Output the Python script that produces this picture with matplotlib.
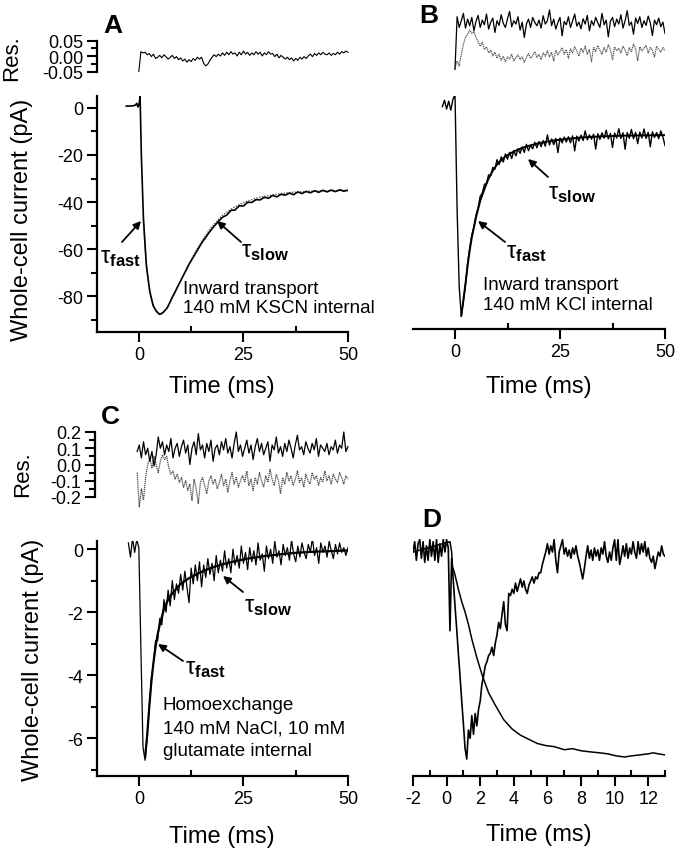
import numpy as np
import matplotlib
matplotlib.use('Agg')
import matplotlib.pyplot as plt
from matplotlib.ticker import MultipleLocator, FormatStrFormatter

plt.rcParams['font.family'] = ['Liberation Sans', 'DejaVu Sans']
plt.rcParams['mathtext.fontset'] = 'custom'
plt.rcParams['mathtext.rm'] = 'Liberation Sans'
plt.rcParams['mathtext.it'] = 'Liberation Sans:italic'
plt.rcParams['mathtext.bf'] = 'Liberation Sans:bold'
plt.rcParams['axes.unicode_minus'] = False

# ---- data ----
res_dt = 0.5  # residual sampling, ms, starting at t = 0

a_res = [-0.05, 0.014, 0.01, 0.012, 0.004, 0.008, -0.002, 0.006, -0.008, -0.004,
         0.002, -0.006, 0.004, -0.002, -0.01, -0.004, 0.002, -0.008, -0.002, -0.012,
         -0.006, -0.016, -0.01, -0.02, -0.012, -0.018, -0.008, -0.014, -0.004, -0.01,
         -0.004, -0.024, -0.032, -0.026, -0.014, -0.004, 0.004, -0.002, 0.006, 0.0,
         0.01, 0.002, 0.012, 0.004, 0.014, 0.006, 0.01, 0.0, 0.012, 0.004,
         0.016, 0.006, 0.012, 0.002, 0.01, 0.004, 0.014, 0.006, 0.012, 0.0,
         0.01, 0.004, 0.014, 0.006, 0.008, -0.002, 0.006, -0.006, 0.002, -0.004,
         -0.01, -0.004, -0.012, -0.006, -0.016, -0.008, -0.014, -0.004, -0.01, -0.002,
         -0.008, 0.0, 0.006, -0.002, 0.008, 0.002, 0.01, 0.004, 0.012, 0.006,
         0.004, 0.01, 0.002, 0.008, 0.004, 0.012, 0.006, 0.014, 0.01, 0.016, 0.012]

a_t = [-3.0, -1.5, -0.8, -0.5, -0.2, 0.1, 0.3, 0.6, 1.1, 1.8, 2.6, 3.4, 4.2, 5.0,
       5.8, 6.8, 8.0, 9.0, 10.0, 11.0, 12.0, 13.0, 14.0, 15.0, 16.0, 17.0, 18.0, 19.0,
       20, 21, 22, 23, 24, 25, 26, 27, 28, 29, 30, 31, 32, 33, 34, 35, 36, 37, 38, 39,
       40, 41, 42, 43, 44, 45, 46, 47, 48, 49, 50]
a_cur = [0.8, 0.9, 1.2, 2.0, 0.4, 2.0, 5.0, -20.0, -47.0, -67.0, -78.0, -84.0, -86.5, -87.8,
         -87.0, -85.0, -80.5, -77.0, -73.5, -70.0, -66.5, -63.5, -60.5, -57.5, -55.0, -52.5,
         -50.3, -48.3,
         -46.5, -45.6, -43.6, -43.4, -41.6, -41.7, -40.1, -40.2, -39.0, -39.1, -38.0, -38.4,
         -37.2, -37.8, -36.7, -37.1, -36.2, -36.9, -35.7, -36.4, -35.5, -36.1, -35.2, -35.9,
         -35.0, -35.7, -34.9, -35.6, -34.8, -35.4, -35.0]
a_fit_t = [1.1, 1.5, 2.2, 3.0, 3.8, 4.6, 5.4, 6.2, 7.2, 8.4, 9.8, 11.4, 13.2, 15.2, 17.4,
           19.8, 22.4, 25.2, 28.4, 32, 36, 40, 45, 50]
a_fit = [-47, -60, -73, -81, -85.5, -87.5, -87.6, -86.4, -83.8, -79.5, -74.3, -68.5, -62.3,
         -56.2, -50.6, -46.0, -42.6, -40.1, -38.2, -36.9, -36.0, -35.5, -35.2, -35.0]

b_res1 = [-0.95, 0.62, 0.3, 0.5, 0.72, 0.28, 0.55, 0.35, 0.6, 0.2,
          0.48, 0.66, 0.3, 0.52, 0.38, 0.7, 0.25, 0.45, 0.58, 0.15,
          0.5, 0.36, 0.68, 0.42, 0.3, 0.56, 0.78, 0.32, 0.5, 0.4,
          0.62, 0.22, 0.46, 0.0, 0.4, 0.55, 0.3, 0.6, 0.45, 0.35,
          0.52, 0.28, 0.65, 0.4, 0.5, 0.82, 0.35, 0.55, 0.25, 0.45,
          0.6, 0.05, 0.48, 0.38, 0.62, 0.3, 0.5, 0.7, 0.34, 0.46,
          0.26, 0.56, 0.4, 0.66, 0.2, 0.5, 0.36, 0.6, 0.44, 0.3,
          0.72, 0.38, 0.52, 0.02, 0.48, 0.6, 0.32, 0.55, 0.4, 0.68,
          0.28, 0.5, 0.8, 0.36, 0.46, 0.1, 0.58, 0.42, 0.62, 0.3,
          0.5, 0.36, 0.64, 0.44, 0.06, 0.52, 0.38, 0.58, 0.32, 0.46, 0.12]
b_res2 = [-0.92, -0.7, -0.85, -0.5, -0.2, 0.0, 0.1, 0.22, 0.12, 0.18,
          0.0, -0.12, -0.26, -0.14, -0.36, -0.28, -0.46, -0.38, -0.55, -0.44,
          -0.62, -0.5, -0.68, -0.56, -0.72, -0.58, -0.64, -0.5, -0.7, -0.6,
          -0.52, -0.66, -0.58, -0.74, -0.6, -0.48, -0.62, -0.54, -0.42, -0.6,
          -0.5, -0.66, -0.46, -0.56, -0.4, -0.58, -0.44, -0.7, -0.38, -0.52,
          -0.42, -0.3, -0.5, -0.36, -0.62, -0.34, -0.46, -0.28, -0.4, -0.56,
          -0.32, -0.44, -0.26, -0.5, -0.36, -0.72, -0.3, -0.42, -0.24, -0.38,
          -0.5, -0.3, -0.44, -0.22, -0.36, -0.66, -0.28, -0.4, -0.32, -0.46,
          -0.26, -0.38, -0.54, -0.3, -0.42, -0.2, -0.34, -0.7, -0.28, -0.4,
          -0.32, -0.24, -0.46, -0.3, -0.38, -0.58, -0.26, -0.36, -0.44, -0.3, -0.4]

b_t0, b_dt = -3.0, 0.5
b_cur = [-1.5, 1.2, -2.5, 0.8, -3.0, 1.5, 3.8,
         -45.0, -78.0, -90.5, -84.0, -77.0, -68.0, -61.5, -56.0, -52.5, -47.5,
         -44.5, -39.5, -38.2, -34.5, -34.0, -30.4, -30.8, -27.3, -28.0,
         -24.0, -26.1, -22.8, -25.0, -21.6, -23.8, -20.9, -23.5, -20.2, -22.4,
         -19.4, -21.3, -18.6, -20.9, -17.5, -20.2, -17.9, -19.4, -16.6, -19.0,
         -16.3, -18.5, -15.9, -18.3, -13.5, -17.8, -15.2, -17.6, -15.0, -21.0,
         -14.8, -16.9, -14.4, -16.5, -14.3, -16.8, -13.9, -20.3, -14.0, -16.1,
         -13.6, -15.9, -11.8, -15.6, -13.5, -15.3, -13.2, -19.5, -13.0, -15.4,
         -12.6, -14.9, -11.5, -15.2, -12.9, -18.8, -12.7, -14.8, -10.9, -15.0,
         -12.6, -19.6, -12.5, -14.9, -11.2, -15.1, -12.4, -17.2, -12.3, -14.8,
         -11.0, -15.0, -12.4, -18.5, -12.2, -14.6, -12.5, -15.1, -11.8, -14.4,
         -18.0]
b_fit_t = [1.5, 2.0, 2.5, 3.0, 3.5, 4.0, 5.0, 6.0, 7.0, 8.0, 9.0, 10, 12, 14, 16, 18, 20,
           23, 26, 30, 35, 40, 45, 50]
b_fit = [-90, -83.5, -76.5, -69, -62.5, -57, -48.5, -41.5, -36.5, -32, -28.7, -26, -22.6,
         -20.5, -19.0, -17.9, -17.0, -16.0, -15.3, -14.6, -14.1, -13.8, -13.7, -13.6]

c_res1 = [0.08, 0.12, 0.04, 0.14, 0.06, 0.1, 0.02, 0.08, -0.01, 0.06,
          0.17, 0.1, 0.14, 0.06, 0.12, 0.08, 0.16, 0.04, 0.1, 0.13,
          0.05, 0.11, 0.15, 0.07, 0.12, 0.0, 0.1, 0.14, 0.06, 0.19,
          0.09, 0.12, 0.04, 0.13, 0.08, 0.15, 0.02, 0.1, 0.12, 0.06,
          0.14, 0.09, 0.16, 0.07, 0.11, 0.04, 0.13, 0.2, 0.08, 0.12,
          0.05, 0.1, 0.15, 0.07, 0.12, 0.03, 0.11, 0.16, 0.08, 0.13,
          0.06, 0.1, 0.14, 0.02, 0.12, 0.09, 0.17, 0.07, 0.11, 0.05,
          0.13, 0.08, 0.15, 0.1, 0.04, 0.12, 0.18, 0.09, 0.11, 0.06,
          0.14, 0.1, 0.07, 0.13, 0.09, 0.16, 0.05, 0.12, 0.1, 0.08,
          0.13, 0.06, 0.11, 0.09, 0.15, 0.07, 0.12, 0.1, 0.2, 0.08, 0.11]
c_res2 = [-0.05, -0.26, -0.15, -0.22, -0.08, 0.0, 0.04, -0.02, 0.05, 0.0,
          -0.05, 0.02, 0.06, 0.03, 0.05, -0.02, -0.06, -0.04, -0.09, -0.06,
          -0.11, -0.08, -0.14, -0.1, -0.16, -0.12, -0.22, -0.09, -0.15, -0.24,
          -0.11, -0.08, -0.13, -0.18, -0.1, -0.07, -0.12, -0.09, -0.15, -0.11,
          -0.06, -0.13, -0.09, -0.17, -0.1, -0.05, -0.12, -0.08, -0.14, -0.1,
          -0.07, -0.11, -0.04, -0.13, -0.09, -0.16, -0.08, -0.12, -0.05, -0.1,
          -0.14, -0.07, -0.11, -0.03, -0.09, -0.13, -0.06, -0.1, -0.18, -0.08,
          -0.12, -0.05, -0.1, -0.07, -0.13, -0.09, -0.04, -0.11, -0.08, -0.14,
          -0.06, -0.1, -0.12, -0.05, -0.09, -0.07, -0.13, -0.08, -0.11, -0.04,
          -0.1, -0.07, -0.12, -0.06, -0.09, -0.11, -0.05, -0.08, -0.12, -0.07, -0.09]

c_t0, c_dt = -2.5, 0.5
c_cur = [0.2, -0.25, 0.35, -0.1, 0.3, 0.05,
         -3.2, -6.3, -6.7, -5.9, -5.0, -4.1, -3.6, -2.9, -2.9, -2.2,
         -2.4, -1.6, -2.0, -1.3, -1.8, -1.0, -1.6, -1.1, -1.4, -0.8,
         -1.3, -0.7, -1.2, -1.7, -0.6, -1.1, -0.5, -1.0, -0.4, -1.2,
         -0.5, -0.9, -0.3, -0.8, -0.45, -1.0, -0.2, -0.75, -0.35, -0.7,
         -0.05, -0.6, -0.3, -0.75, 0.0, -0.5, -0.2, -0.6, 0.1, -0.45,
         -0.1, -0.65, 0.05, -0.4, -0.05, -0.5, 0.2, -0.35, -0.15, -0.7,
         0.1, -0.3, 0.0, -0.45, 0.25, -0.25, -0.05, -0.5, 0.15, -0.2,
         0.05, -0.35, 0.3, -0.15, -0.4, 0.1, -0.25, 0.2, -0.1, -0.3,
         0.15, -0.1, 0.35, -0.2, 0.05, -0.45, 0.2, -0.1, 0.1, -0.25,
         0.25, -0.05, -0.3, 0.15, -0.15, 0.2, -0.1, 0.05, -0.2, 0.05]
c_fit_t = [1.5, 2.0, 2.5, 3.0, 3.5, 4.0, 4.5, 5.0, 6.0, 7.0, 8.0, 9.0, 10, 12, 14, 16, 18,
           20, 23, 26, 30, 34, 38, 42, 46, 50]
c_fit = [-6.6, -5.9, -5.0, -4.2, -3.6, -3.1, -2.7, -2.4, -1.9, -1.6, -1.4, -1.25, -1.1,
         -0.92, -0.78, -0.66, -0.56, -0.48, -0.38, -0.3, -0.22, -0.16, -0.11, -0.08, -0.06,
         -0.04]

# panel D, normalised current (0 = baseline, -1 = peak)
d_t0, d_dt = -2.0, 0.1
d_cur = [0.0, 0.05, -0.04, 0.04, 0.06, -0.03, 0.05, -0.05, 0.03, -0.04,
         0.06, -0.02, 0.05, -0.04, 0.06, -0.05, 0.04, -0.02, 0.06, 0.0,
         0.06, 0.02, -0.38, -0.03, -0.14, -0.26, -0.37, -0.49, -0.6, -0.72,
         -0.83, -0.95, -1.0, -0.86, -0.9, -0.79, -0.88, -0.78, -0.84, -0.76,
         -0.72, -0.64, -0.6, -0.55, -0.53, -0.5, -0.49, -0.46, -0.5, -0.44,
         -0.4, -0.34, -0.37, -0.3, -0.24, -0.35, -0.38, -0.2, -0.21, -0.18,
         -0.2, -0.15, -0.19, -0.16, -0.13, -0.17, -0.14, -0.18, -0.2, -0.16,
         -0.14, -0.12, -0.15, -0.12, -0.13, -0.1, -0.1, -0.06, -0.03, 0.0,
         0.04, -0.01, 0.03, 0.0, 0.06, -0.04, -0.1, 0.0, 0.03, 0.06,
         -0.01, 0.02, -0.02, 0.01, -0.03, 0.02, -0.01, 0.03, -0.02, -0.05,
         -0.09, -0.13, -0.08, -0.02, 0.03, -0.03, 0.01, -0.04, 0.02, -0.02,
         0.01, -0.04, 0.02, -0.01, 0.05, -0.02, -0.05, 0.0, -0.04, 0.02,
         0.06, -0.04, 0.06, -0.06, -0.02, 0.03, -0.02, 0.04, -0.03, 0.02,
         -0.01, 0.05, 0.0, -0.03, 0.05, -0.01, 0.04, 0.0, 0.05, -0.02,
         0.02, -0.03, -0.05, -0.02, -0.08, -0.04, 0.0, -0.02, 0.03, -0.01,
         -0.02]
d2_t = [-2.0, 0.2, 0.3, 0.35, 0.5, 0.7, 0.9, 1.1, 1.3, 1.5, 1.8, 2.1, 2.5, 2.9, 3.4, 3.9,
        4.4, 4.9, 5.4, 5.9, 6.4, 7.0, 7.5, 8.0, 8.5, 9.1, 9.6, 10.1, 10.6, 11.0, 11.5,
        12.0, 12.3, 12.6, 13.0]
d2 = [0.0, 0.05, 0.0, -0.07, -0.11, -0.18, -0.24, -0.29, -0.35, -0.42, -0.51, -0.59,
      -0.68, -0.74, -0.81, -0.855, -0.885, -0.905, -0.925, -0.935, -0.94, -0.955, -0.95,
      -0.96, -0.965, -0.97, -0.975, -0.985, -0.99, -0.985, -0.98, -0.975, -0.97, -0.975,
      -0.98]

# ---- layout helpers (pixel coordinates of the 678x853 picture) ----
W, H = 678, 853
fig = plt.figure(figsize=(W / 100, H / 100), dpi=100)


def box(x0, y0, x1, y1):
    return [x0 / W, 1 - y1 / H, (x1 - x0) / W, (y1 - y0) / H]


def px(x, y):
    return (x / W, 1 - y / H)


def style(ax, left=True, bottom=True):
    ax.patch.set_visible(False)
    for s in ['top', 'right']:
        ax.spines[s].set_visible(False)
    ax.spines['left'].set_visible(left)
    ax.spines['bottom'].set_visible(bottom)
    for s in ax.spines.values():
        s.set_linewidth(1.6)
    ax.tick_params(which='major', length=7, width=1.5, labelsize=13, direction='out', pad=3)
    ax.tick_params(which='minor', length=4, width=1.5, direction='out')
    ax.tick_params(axis='x', which='minor', direction='in')
    if not left:
        ax.tick_params(axis='y', which='both', left=False, labelleft=False)
    if not bottom:
        ax.tick_params(axis='x', which='both', bottom=False, labelbottom=False)


def tau(x, y, sub):
    fig.text(*px(x, y), r'$\mathrm{\tau}_{\mathbf{%s}}$' % sub, fontsize=17,
             ha='center', va='center')


def arrow(tip, tail):
    fig.add_artist(matplotlib.patches.FancyArrowPatch(
        px(*tail), px(*tip), transform=fig.transFigure, arrowstyle='-|>',
        mutation_scale=11, lw=1.3, color='k', shrinkA=0, shrinkB=0))


res_t = res_dt * np.arange(len(a_res))

# ---- panel A ----
ax = fig.add_axes(box(97, 41.5, 348, 72.5))
style(ax, bottom=False)
ax.plot(res_t, a_res, color='k', lw=0.8, clip_on=False)
ax.set_xlim(-10, 50)
ax.set_ylim(-0.05, 0.05)
ax.set_yticks([-0.05, 0, 0.05])
ax.yaxis.set_minor_locator(MultipleLocator(0.025))
ax.yaxis.set_major_formatter(FormatStrFormatter('%.2f'))

ax = fig.add_axes(box(97, 97, 348, 333))
style(ax)
ax.plot(a_fit_t, a_fit, color='0.35', lw=1.0, ls=(0, (1, 1)))
ax.plot(a_t, a_cur, color='k', lw=1.2)
ax.set_xlim(-10, 50)
ax.set_ylim(-95.3, 5.1)
ax.set_yticks([-80, -60, -40, -20, 0])
ax.yaxis.set_minor_locator(MultipleLocator(10))
ax.set_xticks([0, 25, 50])
ax.xaxis.set_minor_locator(MultipleLocator(12.5))

# ---- panel B ----
ax = fig.add_axes(box(413, 5, 665, 72))
style(ax, left=False, bottom=False)
ax.plot(res_t, b_res2, color='0.35', lw=0.9, ls=(0, (1, 0.6)))
ax.plot(res_t, b_res1, color='k', lw=0.9)
ax.set_xlim(-10, 50)
ax.set_ylim(-1, 1)

ax = fig.add_axes(box(413, 97, 665, 330))
style(ax, left=False)
ax.plot(b_t0 + b_dt * np.arange(len(b_cur)), b_cur, color='k', lw=1.0)
ax.plot(b_fit_t, b_fit, color='k', lw=1.4)
ax.set_xlim(-10, 50)
ax.set_ylim(-95.8, 3)
ax.set_xticks([0, 25, 50])
ax.xaxis.set_minor_locator(MultipleLocator(12.5))

# ---- panel C ----
ax = fig.add_axes(box(95, 433, 348, 498))
style(ax, bottom=False)
ax.plot(res_t, c_res2, color='0.3', lw=0.9, ls=(0, (1, 0.6)), clip_on=False)
ax.plot(res_t, c_res1, color='k', lw=0.9, clip_on=False)
ax.set_xlim(-10, 50)
ax.set_ylim(-0.2, 0.2)
ax.set_yticks([-0.2, -0.1, 0, 0.1, 0.2])
ax.yaxis.set_minor_locator(MultipleLocator(0.05))
ax.yaxis.set_major_formatter(FormatStrFormatter('%.1f'))

ax = fig.add_axes(box(97, 542, 348, 777))
style(ax)
ax.plot(c_t0 + c_dt * np.arange(len(c_cur)), c_cur, color='k', lw=0.9)
ax.plot(c_fit_t, c_fit, color='k', lw=1.6)
ax.set_xlim(-10, 50)
ax.set_ylim(-7.2, 0.26)
ax.set_yticks([-6, -4, -2, 0])
ax.yaxis.set_minor_locator(MultipleLocator(1))
ax.yaxis.set_major_formatter(FormatStrFormatter('%d'))
ax.set_xticks([0, 25, 50])
ax.xaxis.set_minor_locator(MultipleLocator(12.5))

# ---- panel D ----
ax = fig.add_axes(box(413, 540, 665, 777))
style(ax, left=False)
ax.plot(d_t0 + d_dt * np.arange(len(d_cur)), d_cur, color='k', lw=1.2)
ax.plot(d2_t, d2, color='k', lw=1.1)
ax.set_xlim(-2, 13)
ax.set_ylim(-1.082, 0.063)
ax.set_xticks(range(-2, 13, 2))
ax.xaxis.set_minor_locator(MultipleLocator(1))

# ---- text ----
for lab, x, y in [('A', 113, 26), ('B', 429, 16), ('C', 110, 417), ('D', 432, 520)]:
    fig.text(*px(x, y), lab, fontsize=19, fontweight='bold', ha='center', va='center')

for x, y in [(12, 58), (23, 474)]:
    fig.text(*px(x, y), 'Res.', fontsize=16, rotation=90, ha='center', va='center')
for x, y in [(22, 220), (33, 660)]:
    fig.text(*px(x, y), 'Whole-cell current (pA)', fontsize=17, rotation=90,
             ha='center', va='center')
for x, y in [(222, 387), (539, 387), (222, 837), (539, 835)]:
    fig.text(*px(x, y), 'Time (ms)', fontsize=17, ha='center', va='center')

for x, y, s in [(183, 289, 'Inward transport'), (183, 309, '140 mM KSCN internal'),
                (483, 286, 'Inward transport'), (483, 306, '140 mM KCl internal'),
                (163, 706, 'Homoexchange'), (163, 729, '140 mM NaCl, 10 mM'),
                (163, 752, 'glutamate internal')]:
    fig.text(*px(x, y), s, fontsize=13.5, ha='left', va='center')

tau(120, 258, 'fast')
arrow((141, 222), (122, 243))
tau(265, 252, 'slow')
arrow((217, 222), (241, 243))
tau(572, 194, 'slow')
arrow((528, 160), (548, 178))
tau(526, 253, 'fast')
arrow((478, 222), (505, 243))
tau(268, 607, 'slow')
arrow((223, 577), (243, 593))
tau(205, 669, 'fast')
arrow((158, 645), (183, 662))

fig.savefig('out.png', dpi=100)
